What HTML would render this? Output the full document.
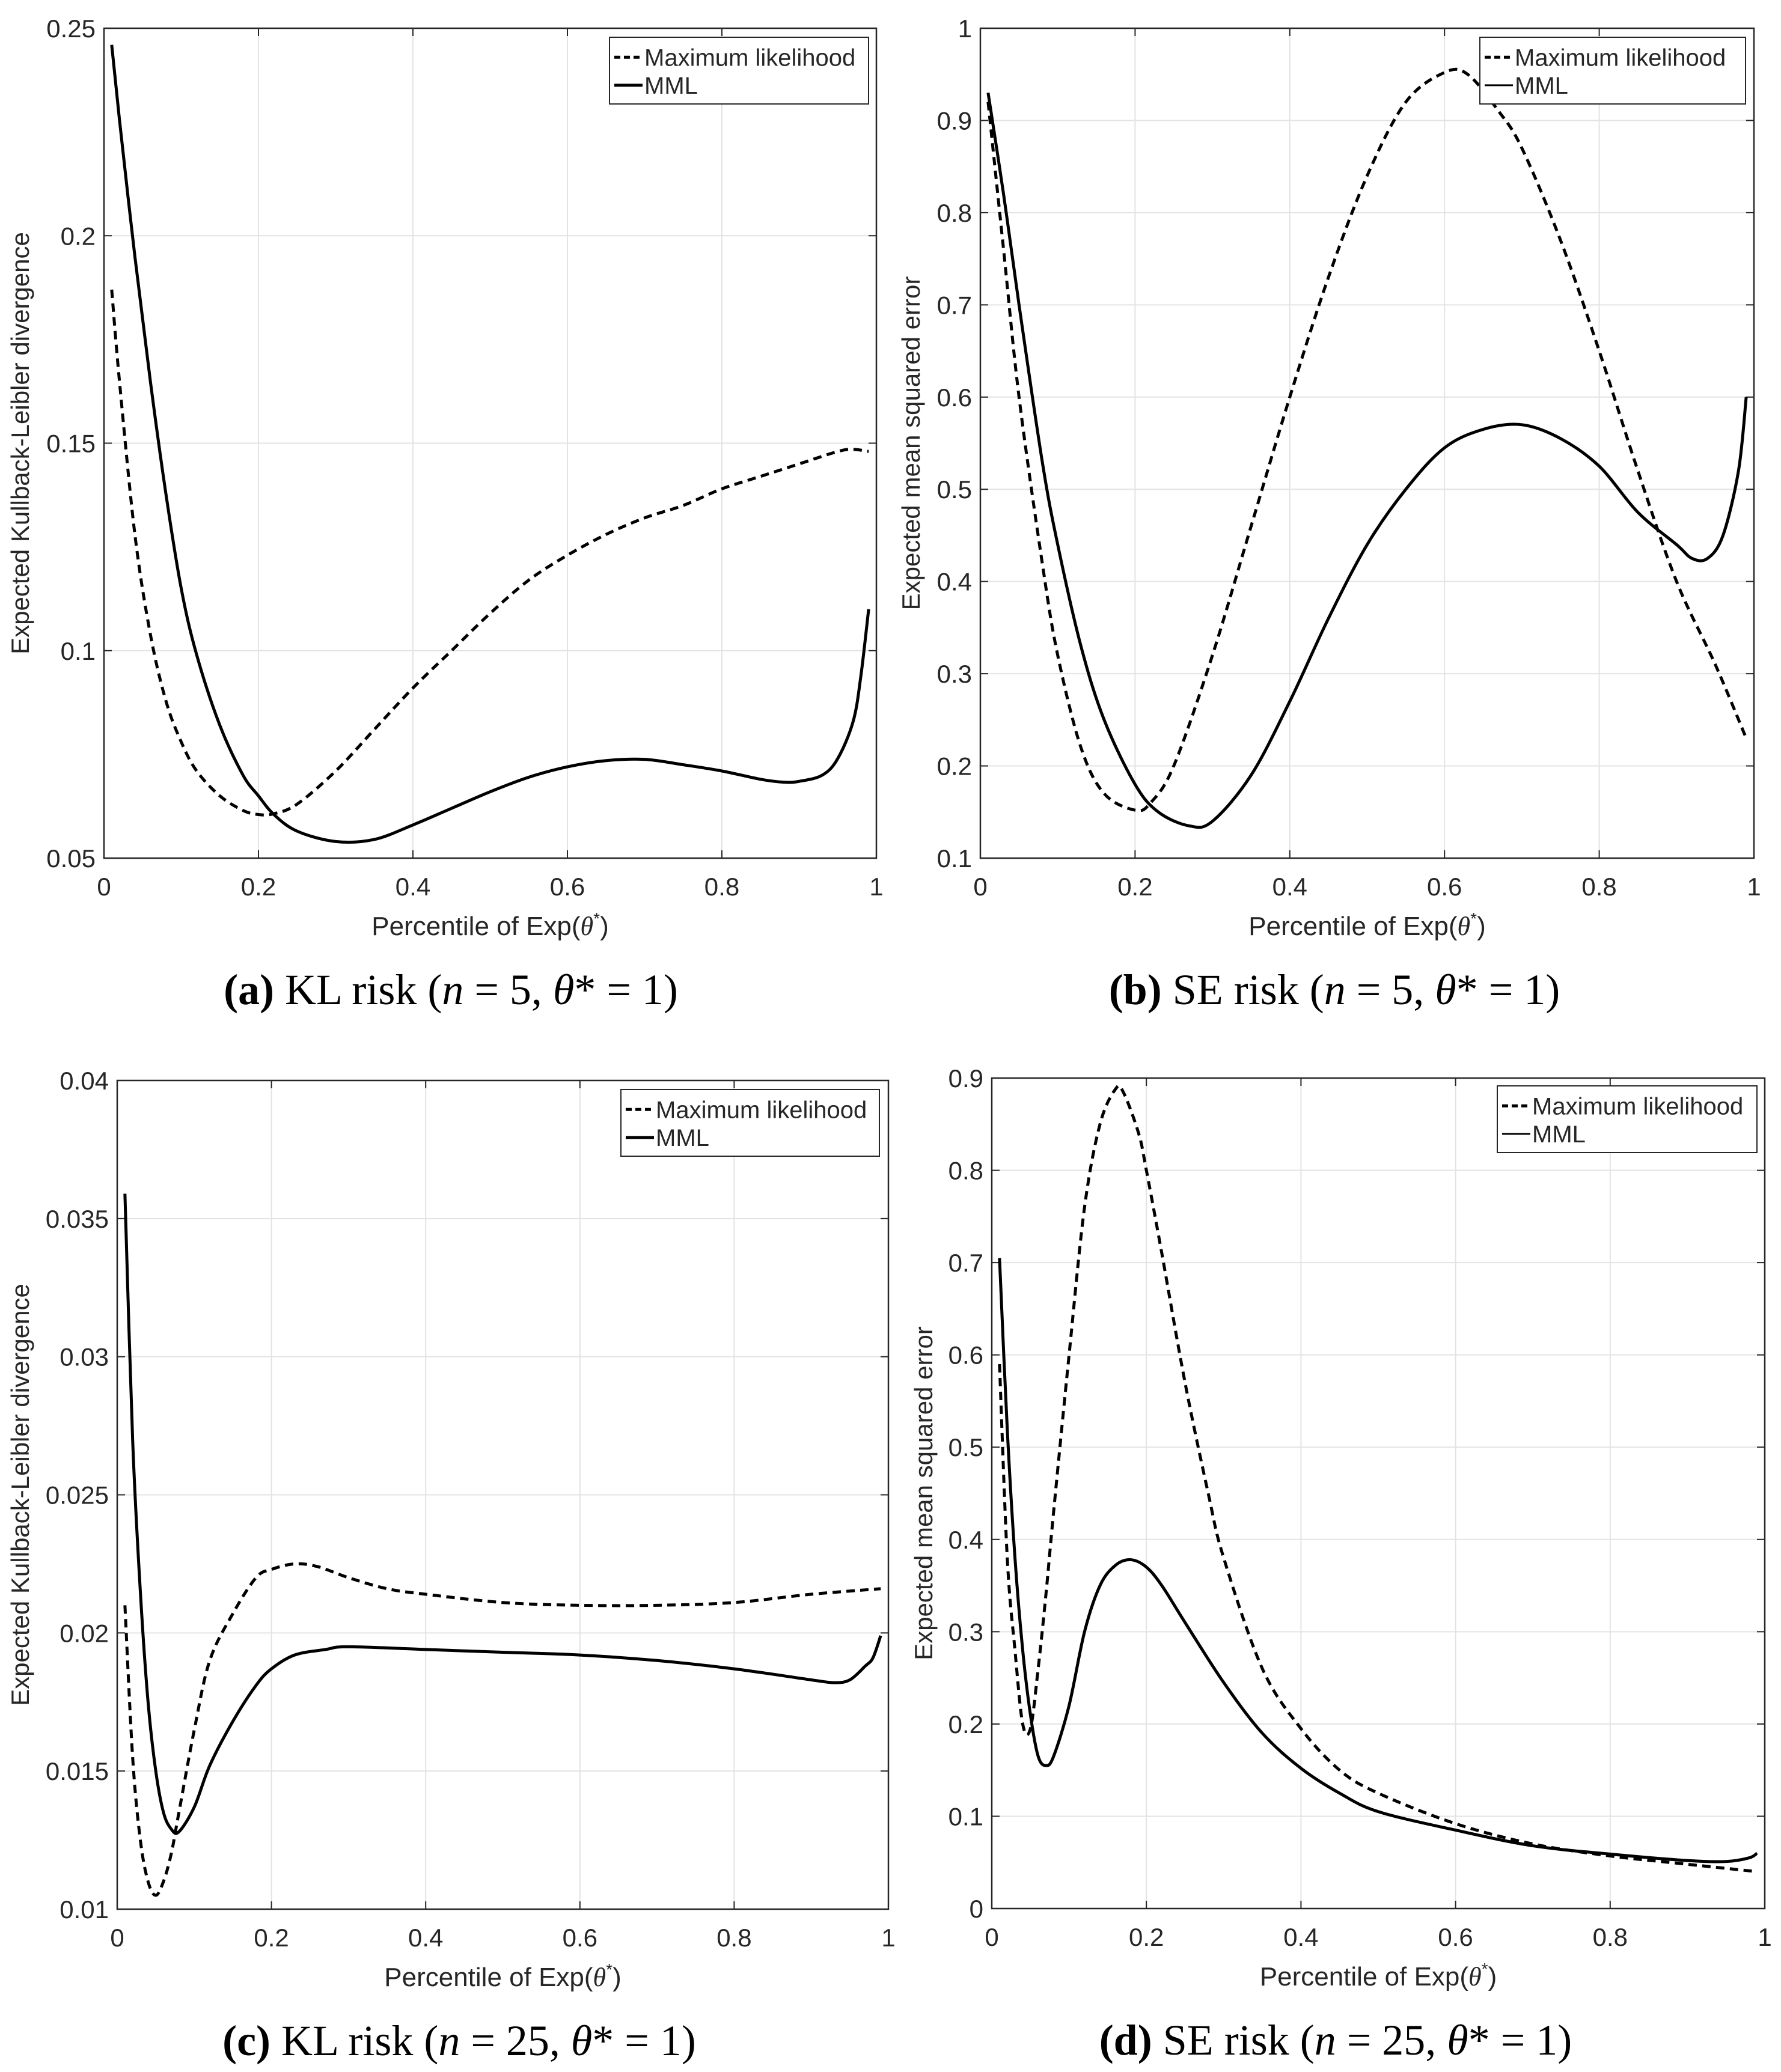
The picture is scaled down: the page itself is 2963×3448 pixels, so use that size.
<!DOCTYPE html>
<html><head><meta charset="utf-8"><style>
body{margin:0;background:#fff;}
svg{display:block;}
text{font-family:"Liberation Sans",sans-serif;fill:#262626;}
.cap{font-family:"Liberation Serif",serif;fill:#000;}
</style></head><body>
<svg id="fig" width="2963" height="3448" xmlns="http://www.w3.org/2000/svg"></svg>
<script>
// Panel (a)
const aX=[0.01,0.02,0.04,0.06,0.08,0.1,0.12,0.15,0.18,0.2,0.22,0.25,0.3,0.35,0.4,0.45,0.5,0.55,0.6,0.65,0.7,0.75,0.8,0.85,0.9,0.95,0.97,0.99];
const aML=[0.187,0.165,0.128,0.104,0.088,0.078,0.071,0.065,0.0615,0.0605,0.0607,0.063,0.071,0.081,0.091,0.1,0.109,0.117,0.123,0.128,0.132,0.135,0.139,0.142,0.145,0.148,0.1485,0.148];
const aXm=[0.01,0.02,0.04,0.06,0.08,0.1,0.12,0.15,0.18,0.2,0.22,0.25,0.3,0.35,0.4,0.45,0.5,0.55,0.6,0.65,0.7,0.75,0.8,0.85,0.88,0.9,0.93,0.95,0.97,0.98,0.99];
const aMML=[0.246,0.228,0.195,0.165,0.138,0.115,0.099,0.082,0.070,0.065,0.0605,0.0565,0.054,0.0545,0.058,0.062,0.066,0.0695,0.072,0.0735,0.0738,0.0725,0.071,0.069,0.0683,0.0685,0.070,0.074,0.083,0.094,0.11];
const aYTicks=["0.05","0.1","0.15","0.2","0.25"];
// Panel (b)
const bX=[0.01,0.03,0.05,0.08,0.1,0.13,0.16,0.2,0.22,0.25,0.3,0.35,0.4,0.45,0.5,0.55,0.6,0.63,0.67,0.7,0.75,0.8,0.85,0.9,0.95,0.99];
const bML=[0.92,0.76,0.6,0.42,0.32,0.22,0.17,0.152,0.16,0.2,0.32,0.46,0.6,0.73,0.84,0.92,0.952,0.95,0.91,0.87,0.77,0.65,0.52,0.4,0.31,0.23];
const bXm=[0.01,0.03,0.05,0.08,0.1,0.13,0.16,0.2,0.23,0.27,0.3,0.35,0.4,0.45,0.5,0.55,0.6,0.65,0.7,0.75,0.8,0.85,0.9,0.92,0.94,0.96,0.98,0.99];
const bMML=[0.93,0.82,0.7,0.53,0.44,0.33,0.25,0.18,0.15,0.135,0.14,0.19,0.27,0.36,0.44,0.5,0.545,0.565,0.57,0.555,0.525,0.475,0.44,0.425,0.425,0.45,0.52,0.6];
const bYTicks=["0.1","0.2","0.3","0.4","0.5","0.6","0.7","0.8","0.9","1"];
// Panel (c)
const cX=[0.01,0.02,0.03,0.04,0.05,0.06,0.07,0.08,0.1,0.12,0.15,0.18,0.2,0.23,0.26,0.3,0.35,0.4,0.5,0.6,0.7,0.8,0.9,0.99];
const cML=[0.021,0.0155,0.0125,0.011,0.0105,0.011,0.012,0.0135,0.0165,0.019,0.0207,0.022,0.0223,0.0225,0.0224,0.022,0.0216,0.0214,0.0211,0.021,0.021,0.0211,0.0214,0.0216];
const cXm=[0.01,0.02,0.03,0.04,0.05,0.06,0.07,0.08,0.1,0.12,0.15,0.18,0.2,0.23,0.27,0.3,0.4,0.5,0.6,0.7,0.8,0.9,0.93,0.95,0.97,0.98,0.99];
const cMML=[0.0359,0.027,0.0215,0.0175,0.015,0.0135,0.0129,0.0128,0.0137,0.0152,0.0168,0.0181,0.0187,0.0192,0.0194,0.0195,0.0194,0.0193,0.0192,0.019,0.0187,0.0183,0.0182,0.0183,0.0188,0.0191,0.0199];
const cYTicks=["0.01","0.015","0.02","0.025","0.03","0.035","0.04"];
// Panel (d)
const dX=[0.01,0.02,0.03,0.04,0.05,0.06,0.07,0.08,0.1,0.12,0.14,0.16,0.17,0.19,0.2,0.22,0.25,0.28,0.3,0.35,0.4,0.45,0.5,0.6,0.7,0.8,0.9,0.99];
const dML=[0.59,0.38,0.28,0.2,0.195,0.26,0.34,0.43,0.6,0.76,0.85,0.888,0.885,0.84,0.8,0.71,0.57,0.45,0.38,0.26,0.195,0.15,0.125,0.092,0.07,0.057,0.048,0.04];
const dXm=[0.01,0.02,0.03,0.04,0.05,0.06,0.07,0.08,0.1,0.12,0.14,0.16,0.18,0.2,0.22,0.25,0.3,0.35,0.4,0.45,0.5,0.6,0.7,0.8,0.9,0.95,0.98,0.99];
const dMML=[0.705,0.52,0.38,0.28,0.21,0.165,0.155,0.165,0.22,0.3,0.35,0.372,0.378,0.37,0.35,0.31,0.245,0.19,0.152,0.125,0.105,0.085,0.068,0.059,0.052,0.051,0.055,0.06];
const dYTicks=["0","0.1","0.2","0.3","0.4","0.5","0.6","0.7","0.8","0.9"];
const xTicks=["0","0.2","0.4","0.6","0.8","1"];

const NS="http://www.w3.org/2000/svg";
const svg=document.getElementById('fig');
function mk(tag,attrs,parent){const e=document.createElementNS(NS,tag);for(const k in attrs)e.setAttribute(k,attrs[k]);(parent||svg).appendChild(e);return e;}
function smooth(pts){
  let d='M'+pts[0][0]+','+pts[0][1];
  for(let i=0;i<pts.length-1;i++){
    const p0=pts[Math.max(0,i-1)],p1=pts[i],p2=pts[i+1],p3=pts[Math.min(pts.length-1,i+2)];
    const c1x=p1[0]+(p2[0]-p0[0])/6,c1y=p1[1]+(p2[1]-p0[1])/6;
    const c2x=p2[0]-(p3[0]-p1[0])/6,c2y=p2[1]-(p3[1]-p1[1])/6;
    d+=' C'+c1x+','+c1y+' '+c2x+','+c2y+' '+p2[0]+','+p2[1];
  }
  return d;
}

function panel(id,L,T,R,B,yTicks,ymin,ymax,sx,sML,sxm,sMML,ylabel,ylabX,leg,capB,capRest,capX,mmlW){
  const g=mk('g',{});
  
  
  const xs=v=>L+(R-L)*v;
  const ys=v=>B-(B-T)*(v-ymin)/(ymax-ymin);
  xTicks.forEach(t=>{const v=parseFloat(t);const x=xs(v);
    const gl=mk('line',{x1:x,x2:x,y1:T,y2:B,stroke:'#e3e3e3','stroke-width':2},g);
    
    
    mk('line',{x1:x,x2:x,y1:B,y2:B-13,stroke:'#262626','stroke-width':2},g);
    mk('line',{x1:x,x2:x,y1:T,y2:T+13,stroke:'#262626','stroke-width':2},g);
    const tl=mk('text',{x:x,y:B+62,'font-size':42,'text-anchor':'middle'},g);tl.textContent=t;
    
    
  });
  yTicks.forEach(t=>{const v=parseFloat(t);const y=ys(v);
    const gl=mk('line',{x1:L,x2:R,y1:y,y2:y,stroke:'#e3e3e3','stroke-width':2},g);
    
    
    mk('line',{x1:L,x2:L+13,y1:y,y2:y,stroke:'#262626','stroke-width':2},g);
    mk('line',{x1:R,x2:R-13,y1:y,y2:y,stroke:'#262626','stroke-width':2},g);
    const tl=mk('text',{x:L-14,y:y+15,'font-size':42,'text-anchor':'end'},g);tl.textContent=t;
    
    
  });
  const fr=mk('rect',{x:L,y:T,width:R-L,height:B-T,fill:'none',stroke:'#262626','stroke-width':2.5},g);
  
  
  const p1=mk('path',{d:smooth(sx.map((v,i)=>[xs(v),ys(sML[i])])),fill:'none',stroke:'#000','stroke-width':5,'stroke-dasharray':'14 9'},g);
  
  
  const p2=mk('path',{d:smooth(sxm.map((v,i)=>[xs(v),ys(sMML[i])])),fill:'none',stroke:'#000','stroke-width':5,'stroke-linejoin':'round'},g);
  
  
  const xl=mk('text',{x:(L+R)/2,y:B+128,'font-size':44,'text-anchor':'middle'},g);
  xl.innerHTML='Percentile of Exp(<tspan font-family="Liberation Serif" font-style="italic">θ</tspan><tspan font-size="28" dy="-18">*</tspan><tspan dy="18">)</tspan>';
  
  
  const yl=mk('text',{x:ylabX,y:(T+B)/2,'font-size':42,'text-anchor':'middle',transform:'rotate(-90 '+ylabX+' '+(T+B)/2+')'},g);
  yl.textContent=ylabel;
  
  
  const [lx1,ly1,lx2,ly2]=leg;
  const lg=mk('g',{},g);
  
  
  mk('rect',{x:lx1,y:ly1,width:lx2-lx1,height:ly2-ly1,fill:'#fff',stroke:'#262626','stroke-width':2},lg);
  const r1=ly1+(ly2-ly1)*0.3, r2=ly1+(ly2-ly1)*0.72;
  mk('line',{x1:lx1+8,x2:lx1+55,y1:r1,y2:r1,stroke:'#000','stroke-width':5,'stroke-dasharray':'10 6'},lg);
  mk('line',{x1:lx1+8,x2:lx1+55,y1:r2,y2:r2,stroke:'#000','stroke-width':mmlW},lg);
  const t1=mk('text',{x:lx1+58,y:r1+14,'font-size':40,fill:'#000'},lg);t1.textContent='Maximum likelihood';
  
  
  const t2=mk('text',{x:lx1+58,y:r2+14,'font-size':40,fill:'#000'},lg);t2.textContent='MML';
  
  
  const c=mk('text',{x:capX,y:B+243,'font-size':72,'text-anchor':'middle',class:'cap'},g);
  c.innerHTML='<tspan font-weight="bold">('+capB+')</tspan> '+capRest;
  
  
}
const nm=n=>'(<tspan font-style="italic">n</tspan> = '+n+', <tspan font-style="italic">θ</tspan>* = 1)';
panel('a',173,47,1458,1428,aYTicks,0.05,0.25,aX,aML,aXm,aMML,'Expected Kullback-Leibler divergence',48,[1014,62,1445,173],'a','KL risk '+nm(5),750,5);
panel('b',1631,47,2918,1428,bYTicks,0.1,1,bX,bML,bXm,bMML,'Expected mean squared error',1530,[2462,62,2904,173],'b','SE risk '+nm(5),2220,3);
panel('c',195,1798,1478,3177,cYTicks,0.01,0.04,cX,cML,cXm,cMML,'Expected Kullback-Leibler divergence',48,[1033,1813,1463,1924],'c','KL risk '+nm(25),764,5);
panel('d',1650,1794,2936,3176,dYTicks,0,0.9,dX,dML,dXm,dMML,'Expected mean squared error',1551,[2491,1807,2923,1918],'d','SE risk '+nm(25),2222,3);
</script>
</body></html>
